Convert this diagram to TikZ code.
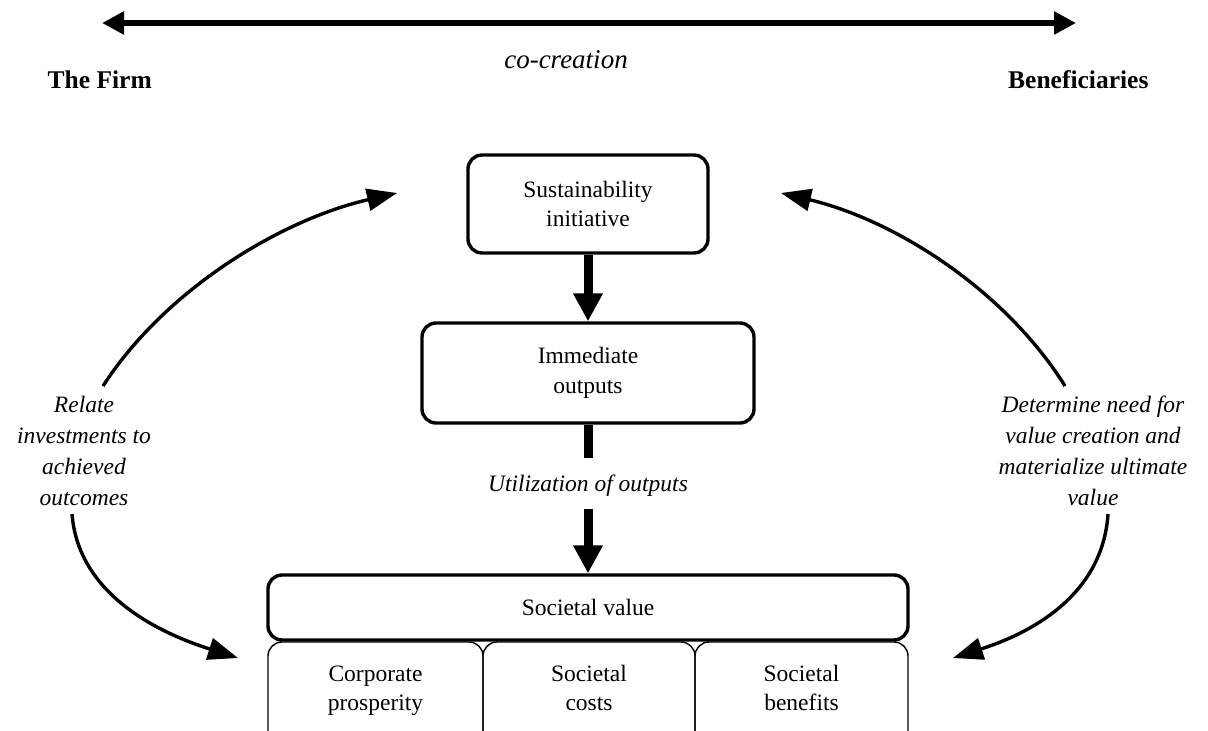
\documentclass[tikz,border=0pt]{standalone}
\usepackage{fontspec}
\setmainfont{Liberation Serif}
\usetikzlibrary{arrows.meta}
\begin{document}
\begin{tikzpicture}[x=1pt,y=-1pt,
  txt/.style={font=\fontsize{23.5}{29.5}\selectfont, align=center, inner sep=0pt},
  parttxt/.style={txt, text depth=6pt},
  itxt/.style={font=\fontsize{23.5}{31}\selectfont\itshape, align=center, inner sep=0pt},
  btxt/.style={font=\fontsize{25.5}{30}\selectfont\bfseries, inner sep=0pt},
  stagebox/.style={draw, line width=3.4pt, rounded corners=14pt, inner sep=0pt},
  partbox/.style={draw, line width=1.4pt, rounded corners=14pt},
  bigflow/.style={line width=9pt, -{Triangle[length=28pt,width=28pt]}},
  stub/.style={line width=9pt},
  loop/.style={line width=3.4pt, -{Triangle[length=30pt,width=22pt]}},
  span/.style={line width=6pt, {Triangle[length=22pt,width=22pt]}-{Triangle[length=22pt,width=22pt]}}]
\useasboundingbox (0,0) rectangle (1208,731);

% co-creation axis
\coordinate (firmend) at (102,23);
\coordinate (benend) at (1076,23);
\draw[span] (firmend) -- (benend);
\node[itxt, font=\fontsize{27}{31}\selectfont\itshape] (cocreation) at (566,60) {co-creation};
\node[btxt, anchor=base east] (firm) at (152,88) {The Firm};
\node[btxt, anchor=base west] (benef) at (1008,88) {Beneficiaries};

% central process
\node[stagebox, minimum width=240pt, minimum height=98pt, txt] (init) at (588,204) {Sustainability\\initiative};
\node[stagebox, minimum width=332pt, minimum height=100pt, txt] (outputs) at (588,373) {Immediate\\outputs};
\node[itxt] (util) at (588,486) {Utilization of outputs};
\node[stagebox, minimum width=640pt, minimum height=65pt, txt] (value) at (588,607.5) {Societal value};

\draw[bigflow] (init.south) -- (outputs.north);
\coordinate (stubend) at (588,458);
\coordinate (flowstart) at (588,509);
\draw[stub] (outputs.south) -- (stubend);
\draw[bigflow] (flowstart) -- (value.north);

% value components (open at the bottom)
\draw[partbox] (268,760) |- (483,642) -- (483,760);
\draw[partbox] (483,760) |- (695,642) -- (695,760);
\draw[partbox] (695,760) |- (908,642) -- (908,760);
\node[parttxt] (prosp) at (375.5,691) {Corporate\\prosperity};
\node[parttxt] (costs) at (589,691) {Societal\\costs};
\node[parttxt] (benefits) at (801.5,691) {Societal\\benefits};

% side loops
\node[itxt] (relate) at (84,451) {Relate\\investments to\\achieved\\outcomes};
\node[itxt] (determine) at (1093,451) {Determine need for\\value creation and\\materialize ultimate\\value};

\coordinate (lu0) at (103,386);
\coordinate (lu1) at (397,193);
\coordinate (ll0) at (72,514);
\coordinate (ll1) at (238,658);
\coordinate (ru0) at (1065,386);
\coordinate (ru1) at (781,193);
\coordinate (rl0) at (1108,514);
\coordinate (rl1) at (953,658);

\draw[loop] (lu0) .. controls (165,290) and (280,220) .. (lu1);
\draw[loop] (ll0) .. controls (78,590) and (150,630) .. (ll1);
\draw[loop] (ru0) .. controls (1005,290) and (895,220) .. (ru1);
\draw[loop] (rl0) .. controls (1103,590) and (1040,630) .. (rl1);
\end{tikzpicture}
\end{document}
